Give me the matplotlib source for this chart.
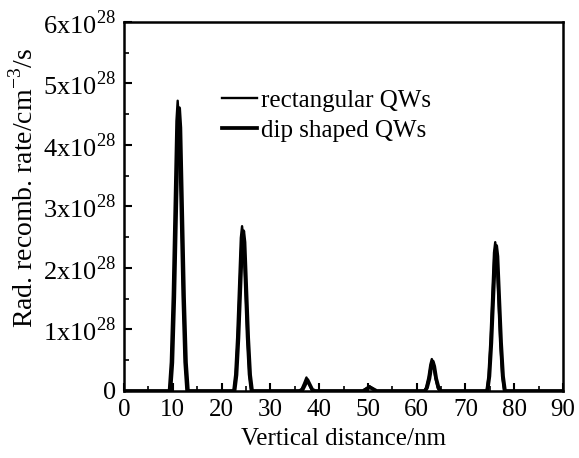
import matplotlib
matplotlib.use("Agg")
import matplotlib.pyplot as plt
from matplotlib.ticker import MultipleLocator, FixedLocator, FixedFormatter

plt.rcParams['font.family'] = ['Liberation Serif', 'DejaVu Serif']
plt.rcParams['mathtext.fontset'] = 'custom'
plt.rcParams['mathtext.rm'] = 'Liberation Serif'

# radiative recombination rate profiles (units of 1e28 cm^-3/s) vs depth (nm)
rect_x = [0,
          9.2, 9.6, 10.0, 10.4, 10.75, 11.0, 11.25, 11.6, 12.0, 12.4, 12.8,
          22.4, 22.8, 23.2, 23.6, 23.95, 24.2, 24.45, 24.8, 25.2, 25.6, 26.0,
          35.8, 36.4, 36.9, 37.4, 37.9, 38.4, 39.0,
          48.9, 49.6, 50.3, 51.0, 51.7,
          61.5, 61.9, 62.4, 62.8, 63.1, 63.4, 63.8, 64.3, 64.7,
          74.3, 74.7, 75.1, 75.5, 75.85, 76.1, 76.35, 76.7, 77.1, 77.5, 77.9,
          90]
rect_y = [0,
          0, 0.47, 1.56, 3.07, 4.39, 4.72, 4.39, 3.07, 1.56, 0.47, 0,
          0, 0.27, 0.88, 1.74, 2.49, 2.68, 2.49, 1.74, 0.88, 0.27, 0,
          0, 0.03, 0.12, 0.22, 0.12, 0.03, 0,
          0, 0.04, 0.08, 0.04, 0,
          0, 0.05, 0.22, 0.43, 0.52, 0.43, 0.22, 0.05, 0,
          0, 0.24, 0.80, 1.57, 2.25, 2.42, 2.25, 1.57, 0.80, 0.24, 0,
          0]

dip_x = [0,
         9.5, 9.9, 10.3, 10.7, 11.05, 11.3, 11.55, 11.9, 12.3, 12.7, 13.1,
         22.65, 23.05, 23.45, 23.85, 24.2, 24.45, 24.7, 25.05, 25.45, 25.85, 26.25,
         36.0, 36.6, 37.1, 37.6, 38.1, 38.6, 39.2,
         49.0, 49.7, 50.4, 51.1, 51.8,
         61.7, 62.1, 62.6, 63.0, 63.3, 63.6, 64.0, 64.5, 64.9,
         74.5, 74.9, 75.3, 75.7, 76.05, 76.3, 76.55, 76.9, 77.3, 77.7, 78.1,
         90]
dip_y = [0,
         0, 0.46, 1.52, 2.99, 4.28, 4.6, 4.28, 2.99, 1.52, 0.46, 0,
         0, 0.26, 0.86, 1.69, 2.42, 2.6, 2.42, 1.69, 0.86, 0.26, 0,
         0, 0.02, 0.10, 0.18, 0.10, 0.02, 0,
         0, 0.03, 0.06, 0.03, 0,
         0, 0.05, 0.20, 0.40, 0.48, 0.40, 0.20, 0.05, 0,
         0, 0.24, 0.78, 1.53, 2.19, 2.36, 2.19, 1.53, 0.78, 0.24, 0,
         0]

x_ticks = [0, 10, 20, 30, 40, 50, 60, 70, 80, 90]
y_ticks = [0, 1, 2, 3, 4, 5, 6]
y_labels = ["0"] + ["%dx10$^{28}$" % v for v in y_ticks[1:]]

fig = plt.figure(figsize=(5.79, 4.58), dpi=100)
ax = fig.add_axes([0.2142, 0.1463, 0.7582, 0.8057])

ax.plot(rect_x, rect_y, color='black', lw=1.7, label='rectangular QWs')
ax.plot(dip_x, dip_y, color='black', lw=2.7, label='dip shaped QWs')

ax.set_xlim(0, 90)
ax.set_ylim(0, 6)
ax.xaxis.set_major_locator(FixedLocator(x_ticks))
ax.xaxis.set_minor_locator(MultipleLocator(5))
ax.yaxis.set_major_locator(FixedLocator(y_ticks))
ax.yaxis.set_major_formatter(FixedFormatter(y_labels))
ax.yaxis.set_minor_locator(MultipleLocator(0.5))
ax.tick_params(which='both', direction='in', top=False, right=False)
ax.tick_params(axis='x', pad=6, labelsize=18)
ax.tick_params(axis='y', pad=6, labelsize=19)
ax.tick_params(which='major', length=6, width=1.5)
ax.tick_params(which='minor', length=3.5, width=1.2)
for s in ax.spines.values():
    s.set_linewidth(1.8)

ax.set_xlabel("Vertical distance/nm", fontsize=18, labelpad=5)
ax.set_ylabel("Rad. recomb. rate/cm$^{-3}$/s", fontsize=20, labelpad=1)
ax.yaxis.set_label_coords(-0.195, 0.551)

leg = ax.legend(loc='upper left', bbox_to_anchor=(0.2, 0.845), frameon=False, fontsize=18,
                handlelength=1.4, handletextpad=0.15, labelspacing=0.3, borderaxespad=0)

fig.savefig("out.png", dpi=100)
